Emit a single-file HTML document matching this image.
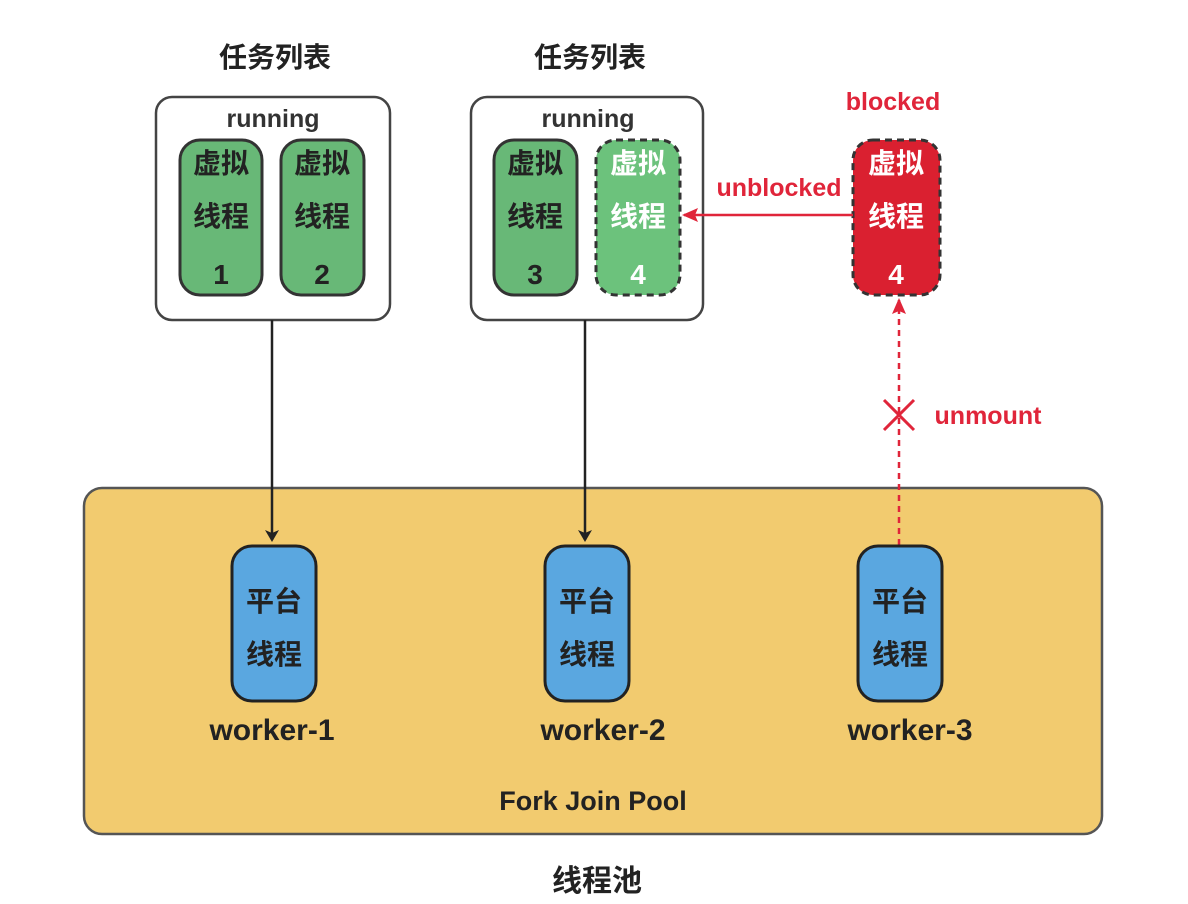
<!DOCTYPE html>
<html><head><meta charset="utf-8"><style>
html,body{margin:0;padding:0;background:#fff}
text{font-family:"Liberation Sans","Noto Sans CJK SC",sans-serif;font-weight:bold}
</style></head><body>
<svg width="1188" height="899" viewBox="0 0 1188 899" xmlns="http://www.w3.org/2000/svg">
<defs>
<marker id="ab" markerWidth="12" markerHeight="16" refX="10" refY="8" orient="auto" markerUnits="userSpaceOnUse"><path d="M0,1 L12,8 L0,15 L3,8 Z" fill="#222"/></marker>
<marker id="ar" markerWidth="16" markerHeight="14" refX="14" refY="7" orient="auto" markerUnits="userSpaceOnUse"><path d="M0,0 L16,7 L0,14 L3,7 Z" fill="#e0253a"/></marker>
</defs>
<g text-anchor="middle">
<text x="275" y="67" font-size="28" fill="#222">任务列表</text>
<text x="590" y="67" font-size="28" fill="#222">任务列表</text>

<rect x="84" y="488" width="1018" height="346" rx="18" fill="#f2cb6f" stroke="#555" stroke-width="2.5"/>

<rect x="156" y="97" width="234" height="223" rx="16" fill="#fff" stroke="#444" stroke-width="2.5"/>
<rect x="471" y="97" width="232" height="223" rx="16" fill="#fff" stroke="#444" stroke-width="2.5"/>
<text x="273" y="127" font-size="25" fill="#333">running</text>
<text x="588" y="127" font-size="25" fill="#333">running</text>

<rect x="180" y="140" width="82" height="155" rx="20" fill="#68b877" stroke="#333" stroke-width="3"/>
<rect x="281" y="140" width="83" height="155" rx="20" fill="#68b877" stroke="#333" stroke-width="3"/>
<rect x="494" y="140" width="83" height="155" rx="20" fill="#68b877" stroke="#333" stroke-width="3"/>
<rect x="596" y="140" width="84" height="155" rx="20" fill="#6cc27c" stroke="#333" stroke-width="3" stroke-dasharray="7,5"/>
<rect x="853" y="140" width="87" height="155" rx="20" fill="#da2030" stroke="#333" stroke-width="3" stroke-dasharray="7,5"/>

<g font-size="28" fill="#222">
<text x="221" y="173">虚拟</text><text x="221" y="226">线程</text><text x="221" y="284">1</text>
<text x="322" y="173">虚拟</text><text x="322" y="226">线程</text><text x="322" y="284">2</text>
<text x="535" y="173">虚拟</text><text x="535" y="226">线程</text><text x="535" y="284">3</text>
</g>
<g font-size="28" fill="#fff">
<text x="638" y="173">虚拟</text><text x="638" y="226">线程</text><text x="638" y="284">4</text>
<text x="896" y="173">虚拟</text><text x="896" y="226">线程</text><text x="896" y="284">4</text>
</g>

<text x="893" y="110" font-size="25" fill="#e0253a">blocked</text>
<text x="779" y="196" font-size="25" fill="#e0253a">unblocked</text>
<line x1="853" y1="215" x2="684" y2="215" stroke="#e0253a" stroke-width="2.5" marker-end="url(#ar)"/>

<line x1="272" y1="320" x2="272" y2="540" stroke="#222" stroke-width="2.5" marker-end="url(#ab)"/>
<line x1="585" y1="320" x2="585" y2="540" stroke="#222" stroke-width="2.5" marker-end="url(#ab)"/>

<line x1="899" y1="545" x2="899" y2="300" stroke="#e0253a" stroke-width="2.5" stroke-dasharray="6,5" marker-end="url(#ar)"/>
<path d="M884,400 L914,430 M914,400 L884,430" stroke="#e0253a" stroke-width="3"/>
<text x="988" y="424" font-size="25" fill="#e0253a">unmount</text>

<rect x="232" y="546" width="84" height="155" rx="20" fill="#5aa7e0" stroke="#222" stroke-width="3"/>
<rect x="545" y="546" width="84" height="155" rx="20" fill="#5aa7e0" stroke="#222" stroke-width="3"/>
<rect x="858" y="546" width="84" height="155" rx="20" fill="#5aa7e0" stroke="#222" stroke-width="3"/>
<g font-size="28" fill="#222">
<text x="274" y="611">平台</text><text x="274" y="664">线程</text>
<text x="587" y="611">平台</text><text x="587" y="664">线程</text>
<text x="900" y="611">平台</text><text x="900" y="664">线程</text>
</g>
<g font-size="30" fill="#222">
<text x="272" y="740">worker-1</text>
<text x="603" y="740">worker-2</text>
<text x="910" y="740">worker-3</text>
</g>
<text x="593" y="810" font-size="27" fill="#222">Fork Join Pool</text>
<text x="597" y="891" font-size="30" fill="#222">线程池</text>
</g>
</svg>
</body></html>
